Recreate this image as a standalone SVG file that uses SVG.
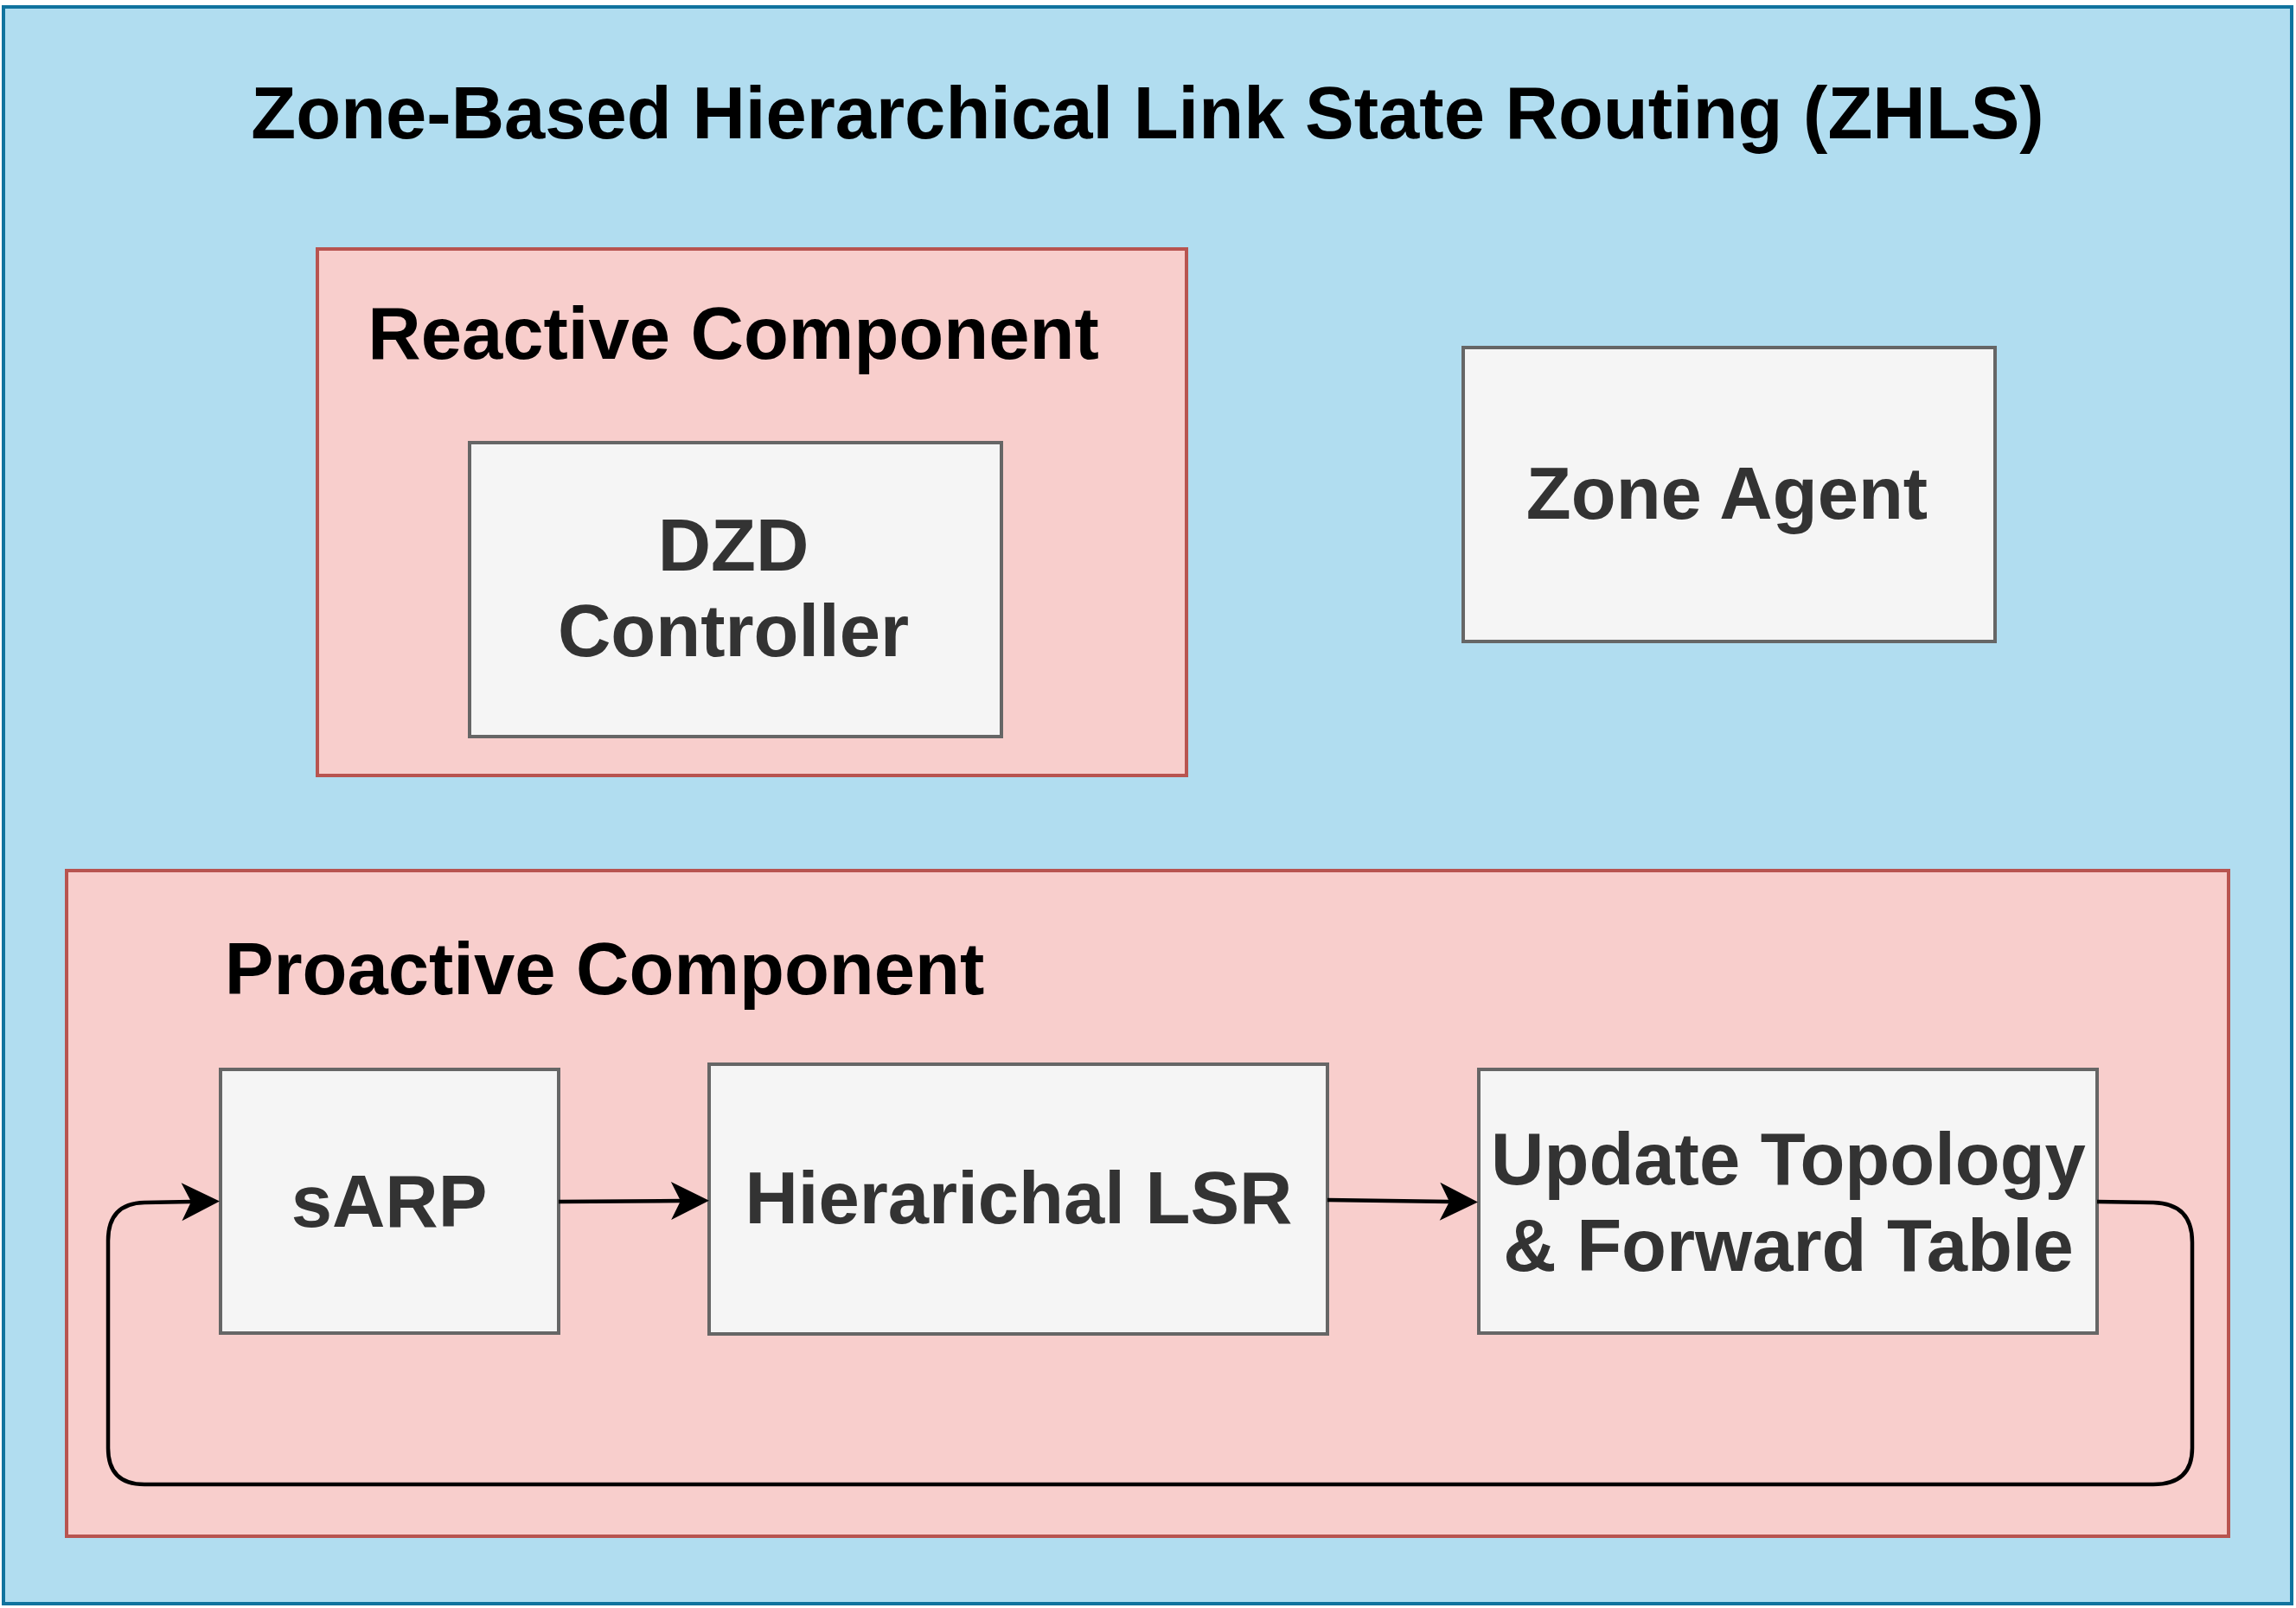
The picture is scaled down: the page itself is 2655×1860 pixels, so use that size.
<svg xmlns="http://www.w3.org/2000/svg" width="2655" height="1860" viewBox="0 0 2655 1860">
<defs>
<style>
.t{font-family:"Liberation Sans",Arial,Helvetica,sans-serif;font-weight:bold;font-size:85px;text-anchor:middle}
.hd{fill:#000000}
.bx{fill:#333333}
.box{fill:#f5f5f5;stroke:#666666;stroke-width:4}
.comp{fill:#f8cecc;stroke:#b85450;stroke-width:4}
.edge{fill:none;stroke:#000000;stroke-width:4.5;stroke-linejoin:round}
</style>
<marker id="arr" markerUnits="userSpaceOnUse" viewBox="-46 -25 50 50" markerWidth="50" markerHeight="50" refX="-33" refY="0" orient="auto">
<path d="M0,0 L-44,-22 L-33,0 L-44,22 Z" fill="#000000"/>
</marker>
</defs>
<g id="zhls">
<rect x="4" y="8" width="2646" height="1847" fill="#b1ddf0" stroke="#10739e" stroke-width="4"/>
<text class="t hd" x="1327" y="160">Zone-Based Hierarchical Link State Routing (ZHLS)</text>
</g>
<g id="reactive">
<rect class="comp" x="367" y="288" width="1005" height="609"/>
<text class="t hd" x="848" y="415">Reactive Component</text>
</g>
<g id="dzd">
<rect class="box" x="543" y="512" width="615" height="340"/>
<text class="t bx" x="848" y="660">DZD</text>
<text class="t bx" x="848" y="759">Controller</text>
</g>
<g id="zoneagent">
<rect class="box" x="1692" y="402" width="615" height="340"/>
<text class="t bx" x="1997" y="600">Zone Agent</text>
</g>
<g id="proactive">
<rect class="comp" x="77" y="1007" width="2500" height="770"/>
<text class="t hd" x="699" y="1150">Proactive Component</text>
</g>
<g id="sarp">
<rect class="box" x="255" y="1237" width="391" height="305"/>
<text class="t bx" x="450" y="1419">sARP</text>
</g>
<g id="lsr">
<rect class="box" x="820" y="1231" width="715" height="312"/>
<text class="t bx" x="1178" y="1415">Hierarichal LSR</text>
</g>
<g id="update">
<rect class="box" x="1710" y="1237" width="715" height="305"/>
<text class="t bx" x="2068" y="1370">Update Topology</text>
<text class="t bx" x="2068" y="1470">&amp; Forward Table</text>
</g>
<g id="connectors">
<path class="edge" d="M646,1390 L787,1389" marker-end="url(#arr)"/>
<path class="edge" d="M1535,1388 L1676,1390" marker-end="url(#arr)"/>
<path class="edge" d="M2425,1390 L2490,1391 Q2535,1392 2535,1437 L2535,1675 Q2535,1717 2490,1717 L167,1717 Q125,1717 125,1675 L125,1435 Q125,1392 167,1391 L221,1390" marker-end="url(#arr)"/>
</g>
</svg>
